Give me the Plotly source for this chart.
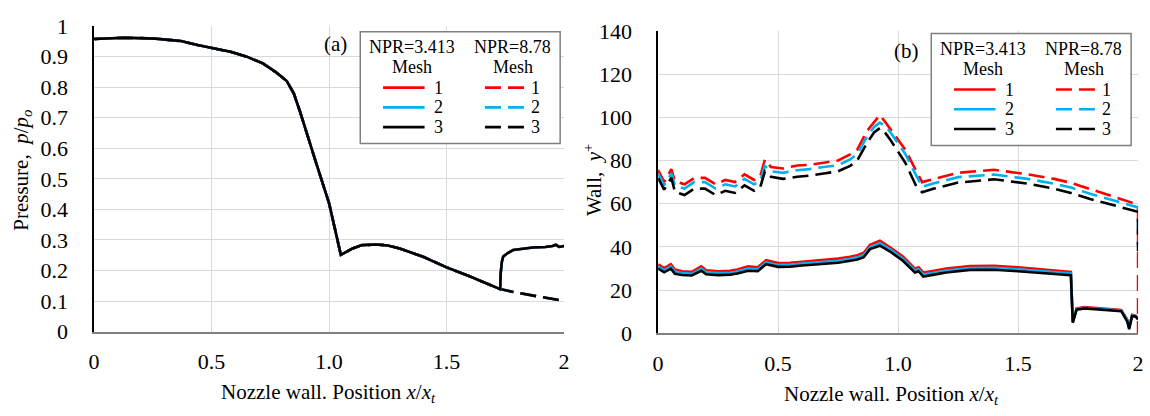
import plotly.graph_objects as go

W, H = 1150, 416
FONT = "Liberation Serif"

RED = "#ff0000"
BLUE = "#00b0f0"
BLACK = "#000000"
DASH = "16px,7px"

# ---------------- (a) wall pressure ratio p/po ----------------
# common part of the distribution (all meshes and both NPR coincide up to x/xt = 1.728)
x_p = [0, 0.13, 0.26, 0.37, 0.44, 0.51, 0.58, 0.65, 0.72, 0.77, 0.82, 0.85, 0.875,
       0.94, 1.0, 1.05, 1.1, 1.14, 1.2, 1.25, 1.3, 1.4, 1.5, 1.6, 1.7, 1.728]
p_common = [0.958, 0.962, 0.959, 0.951, 0.938, 0.928, 0.916, 0.9, 0.877, 0.851, 0.82,
            0.779, 0.723, 0.564, 0.42, 0.251, 0.272, 0.283, 0.285, 0.282, 0.272, 0.245,
            0.21, 0.18, 0.146, 0.139]

# NPR = 3.413: shock-induced separation near the exit
x_p_npr3_tail = [1.73, 1.735, 1.741, 1.76, 1.783, 1.82, 1.867, 1.92, 1.951, 1.965, 1.979, 2.0]
p_npr3_tail = [0.19, 0.228, 0.246, 0.257, 0.267, 0.271, 0.275, 0.277, 0.28, 0.284, 0.277, 0.28]

# NPR = 8.78: attached expansion to the exit
x_p_npr8_tail = [1.8, 1.9, 2.0]
p_npr8_tail = [0.127, 0.113, 0.1]

# ---------------- (b) wall y+ ----------------
# NPR = 3.413 (solid)
x_yp_npr3 = [0, 0.025, 0.053, 0.07, 0.1, 0.14, 0.18, 0.2, 0.25, 0.3,
             0.33, 0.375, 0.415, 0.45, 0.5, 0.55, 0.6, 0.65, 0.7, 0.75,
             0.8, 0.83, 0.857, 0.883, 0.924, 0.965, 1.02, 1.07, 1.085, 1.105,
             1.15, 1.2, 1.3, 1.4, 1.5, 1.57, 1.65, 1.707, 1.72, 1.728,
             1.744, 1.777, 1.85, 1.93, 1.955, 1.963, 1.975, 1.99, 2.0]
yp_npr3_mesh1 = [32.0, 30.2, 32.0, 29.6, 28.8, 28.5, 31.0, 29.2, 28.8, 29.0,
                 29.6, 31.0, 30.6, 33.9, 32.6, 32.7, 33.2, 33.6, 34.0, 34.6,
                 35.5, 36.2, 37.3, 41.0, 42.9, 40.0, 35.6, 30.0, 30.6, 28.2,
                 29.0, 30.0, 31.2, 31.3, 30.6, 29.9, 29.2, 28.7, 28.5, 5.5,
                 11.6, 12.2, 11.6, 10.9, 6.5, 3.0, 8.6, 8.2, 7.0]
yp_npr3_mesh2 = [31.0, 29.2, 31.0, 28.6, 27.9, 27.6, 30.0, 28.3, 27.9, 28.1,
                 28.6, 30.0, 29.7, 32.9, 31.7, 31.8, 32.3, 32.7, 33.1, 33.6,
                 34.5, 35.2, 36.3, 40.0, 41.8, 39.0, 34.6, 29.1, 29.7, 27.3,
                 28.1, 29.1, 30.3, 30.4, 29.7, 29.1, 28.4, 27.9, 27.7, 5.3,
                 11.3, 11.9, 11.3, 10.6, 6.2, 2.7, 8.3, 8.0, 6.8]
yp_npr3_mesh3 = [30.0, 28.3, 30.0, 27.6, 27.0, 26.8, 29.0, 27.4, 27.0, 27.2,
                 27.7, 29.0, 28.8, 32.0, 30.8, 30.9, 31.4, 31.8, 32.2, 32.7,
                 33.6, 34.2, 35.3, 39.0, 40.6, 38.0, 33.6, 28.2, 28.8, 26.3,
                 27.2, 28.2, 29.4, 29.5, 28.8, 28.3, 27.6, 27.1, 26.9, 5.0,
                 11.0, 11.6, 11.0, 10.3, 5.5, 2.0, 8.0, 7.8, 6.5]

# NPR = 8.78 (dashed)
x_yp_npr8 = [0, 0.025, 0.055, 0.07, 0.11, 0.15, 0.195, 0.24, 0.28, 0.32,
             0.36, 0.4, 0.425, 0.445, 0.47, 0.52, 0.58, 0.63, 0.69, 0.75,
             0.8, 0.83, 0.87, 0.9, 0.924, 0.945, 0.965, 1.0, 1.03, 1.076,
             1.1, 1.15, 1.25, 1.4, 1.54, 1.65, 1.72, 1.8, 1.9, 2.0, 2.0]
yp_npr8_mesh1 = [75.6, 70.0, 76.0, 70.4, 69.0, 71.9, 72.0, 69.0, 71.0, 70.0,
                 73.6, 71.0, 72.5, 80.4, 77.0, 76.3, 77.7, 78.0, 79.0, 80.0,
                 82.8, 85.0, 93.6, 98.0, 101.0, 98.0, 95.0, 89.3, 85.0, 75.0,
                 70.0, 71.5, 74.3, 75.7, 73.6, 71.5, 69.7, 66.8, 63.2, 59.6, 0.0]
yp_npr8_mesh2 = [74.0, 68.5, 74.0, 68.5, 67.0, 70.0, 70.0, 67.0, 69.0, 68.0,
                 71.5, 69.0, 70.5, 77.5, 75.0, 74.3, 75.5, 76.0, 77.0, 77.8,
                 80.5, 83.0, 91.0, 95.5, 97.5, 96.0, 93.5, 88.0, 83.0, 73.0,
                 67.8, 69.5, 72.3, 73.5, 71.5, 69.3, 67.5, 64.6, 61.4, 58.3, 40.0]
yp_npr8_mesh3 = [71.9, 66.5, 72.0, 65.5, 64.0, 67.0, 67.0, 64.0, 66.0, 65.0,
                 68.5, 66.0, 67.5, 75.0, 72.5, 71.5, 72.5, 73.0, 74.0, 75.0,
                 77.5, 80.0, 88.0, 93.0, 95.0, 93.0, 90.0, 84.0, 79.0, 68.0,
                 65.3, 67.0, 69.8, 71.3, 69.3, 67.0, 65.0, 62.2, 59.1, 56.3, 38.0]

mesh_colors = [RED, BLUE, BLACK]
x_ticks = [0, 0.5, 1.0, 1.5, 2.0]
x_tick_text = ["0", "0.5", "1.0", "1.5", "2"]
p_ticks = [0, 0.1, 0.2, 0.3, 0.4, 0.5, 0.6, 0.7, 0.8, 0.9, 1.0]
p_tick_text = ["0", "0.1", "0.2", "0.3", "0.4", "0.5", "0.6", "0.7", "0.8", "0.9", "1"]
yp_ticks = [0, 20, 40, 60, 80, 100, 120, 140]


def px(x):
    return x / W


def py(y):
    return 1 - y / H


fig = go.Figure()

# (a): dashed NPR=8.78 first, solid NPR=3.413 on top
for c in mesh_colors:
    fig.add_trace(go.Scatter(x=x_p + x_p_npr8_tail, y=p_common + p_npr8_tail,
                             mode="lines", line=dict(color=c, width=2.6, dash=DASH),
                             xaxis="x", yaxis="y", showlegend=False, hoverinfo="skip"))
for c in mesh_colors:
    fig.add_trace(go.Scatter(x=x_p + x_p_npr3_tail, y=p_common + p_npr3_tail,
                             mode="lines", line=dict(color=c, width=2.6),
                             xaxis="x", yaxis="y", showlegend=False, hoverinfo="skip"))

# (b)
for c, ys in zip(mesh_colors, [yp_npr8_mesh1, yp_npr8_mesh2, yp_npr8_mesh3]):
    fig.add_trace(go.Scatter(x=x_yp_npr8, y=ys, mode="lines",
                             line=dict(color=c, width=2.6, dash=DASH),
                             xaxis="x2", yaxis="y2", showlegend=False, hoverinfo="skip"))
for c, ys in zip(mesh_colors, [yp_npr3_mesh1, yp_npr3_mesh2, yp_npr3_mesh3]):
    fig.add_trace(go.Scatter(x=x_yp_npr3, y=ys, mode="lines",
                             line=dict(color=c, width=2.6),
                             xaxis="x2", yaxis="y2", showlegend=False, hoverinfo="skip"))

tick_font = dict(family=FONT, size=22, color="#000000")
grid = dict(showgrid=True, gridcolor="#d9d9d9", gridwidth=1, zeroline=False)

xaxis_common = dict(range=[0, 2], tickvals=x_ticks, ticktext=x_tick_text,
                    tickfont=tick_font, showline=True, linecolor="#808080", linewidth=1.5,
                    ticks="", ticklabelstandoff=9, **grid)

fig.update_layout(
    width=W, height=H,
    margin=dict(l=0, r=0, t=0, b=0),
    paper_bgcolor="white", plot_bgcolor="white",
    xaxis=dict(domain=[px(89), px(564)], anchor="y", **xaxis_common),
    yaxis=dict(domain=[py(340), py(15)], anchor="x", range=[0, 1],
               tickvals=p_ticks, ticktext=p_tick_text, tickfont=tick_font,
               showline=True, linecolor="#000000", linewidth=1.5, ticks="",
               ticklabelstandoff=20, **grid),
    xaxis2=dict(domain=[px(659), px(1144)], anchor="y2", **xaxis_common),
    yaxis2=dict(domain=[py(342), py(20)], anchor="x2", range=[0, 140],
                tickvals=yp_ticks, tickfont=tick_font,
                showline=True, linecolor="#000000", linewidth=1.5, ticks="",
                ticklabelstandoff=20, **grid),
)

title_font = dict(family=FONT, size=21, color="#000000")
annotations = [
    dict(x=px(16), y=py(168), text="Pressure,  <i>p</i>/<i>p</i><sub><i>o</i></sub>",
         textangle=-90),
    dict(x=px(326), y=py(405), text="Nozzle wall. Position <i>x</i>/<i>x</i><sub><i>t</i></sub>"),
    dict(x=px(593), y=py(178), text="Wall,  <i>y</i><sup>+</sup>", textangle=-90),
    dict(x=px(895), y=py(408), text="Nozzle wall. Position <i>x</i>/<i>x</i><sub><i>t</i></sub>"),
    dict(x=px(333), y=py(34), text="(a)"),
    dict(x=px(910), y=py(41), text="(b)"),
]
for a in annotations:
    fig.add_annotation(xref="paper", yref="paper", xanchor="center", yanchor="middle",
                       showarrow=False, font=title_font, **a)

# legend boxes drawn as table: two NPR columns, three mesh rows
leg_font = dict(family=FONT, size=18, color="#000000")


def add_legend(bx0, by0, bx1, by1):
    fig.add_shape(type="rect", xref="paper", yref="paper",
                  x0=px(bx0), x1=px(bx1), y0=py(by1), y1=py(by0),
                  line=dict(color="#7f7f7f", width=1.5), fillcolor="white", layer="above")
    for cx, head in [(bx0 + 52, "NPR=3.413"), (bx0 + 154, "NPR=8.78")]:
        fig.add_annotation(xref="paper", yref="paper", x=px(cx), y=py(by0 + 16.5),
                           text=head, showarrow=False, font=leg_font,
                           xanchor="center", yanchor="middle")
        fig.add_annotation(xref="paper", yref="paper", x=px(cx), y=py(by0 + 37.5),
                           text="Mesh", showarrow=False, font=leg_font,
                           xanchor="center", yanchor="middle")
    for i, c in enumerate(mesh_colors):
        ry = by0 + 59.5 + 21 * i
        fig.add_shape(type="line", xref="paper", yref="paper",
                      x0=px(bx0 + 23), x1=px(bx0 + 65), y0=py(ry), y1=py(ry),
                      line=dict(color=c, width=2.6), layer="above")
        fig.add_shape(type="line", xref="paper", yref="paper",
                      x0=px(bx0 + 126), x1=px(bx0 + 170), y0=py(ry), y1=py(ry),
                      line=dict(color=c, width=2.6, dash=DASH), layer="above")
        for lx in (bx0 + 79, bx0 + 177):
            fig.add_annotation(xref="paper", yref="paper", x=px(lx), y=py(ry),
                               text=str(i + 1), showarrow=False, font=leg_font,
                               xanchor="center", yanchor="middle")


add_legend(358, 21, 560, 140)
add_legend(935, 23, 1137, 142)

fig.write_html("out.html")
